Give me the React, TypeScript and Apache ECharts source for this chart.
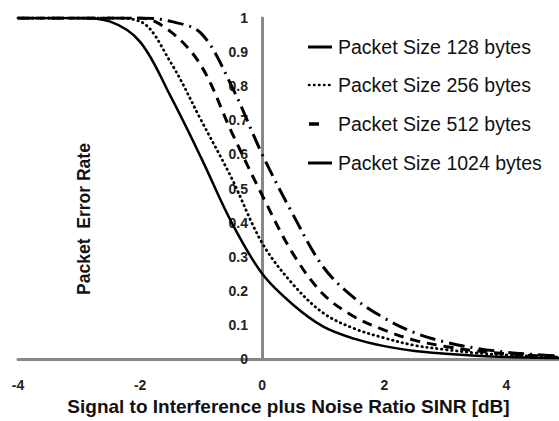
import React, { useEffect, useRef } from "react";
import * as echarts from "echarts";

const xValues = [-4, -3.5, -3, -2.5, -2, -1.5, -1, -0.5, 0, 0.5, 1, 1.5, 2, 2.5, 3, 3.5, 4, 4.5, 5];
const per128 = [1, 1, 1, 0.99, 0.93, 0.77, 0.59, 0.4, 0.25, 0.16, 0.095, 0.06, 0.038, 0.024, 0.016, 0.01, 0.006, 0.004, 0.003];
const per256 = [1, 1, 1, 1, 0.99, 0.87, 0.7, 0.53, 0.34, 0.22, 0.135, 0.09, 0.062, 0.04, 0.028, 0.018, 0.012, 0.008, 0.005];
const per512 = [1, 1, 1, 1, 1, 0.96, 0.86, 0.665, 0.48, 0.31, 0.19, 0.125, 0.085, 0.055, 0.037, 0.024, 0.016, 0.01, 0.007];
const per1024 = [1, 1, 1, 1, 1, 0.99, 0.955, 0.8, 0.6, 0.425, 0.27, 0.18, 0.12, 0.077, 0.05, 0.032, 0.02, 0.013, 0.008];
const seriesNames = [
  "Packet Size 128 bytes",
  "Packet Size 256 bytes",
  "Packet Size 512 bytes",
  "Packet Size 1024 bytes",
];
const xTitle = "Signal to Interference plus Noise Ratio SINR [dB]";
const yTitle = "Packet  Error Rate";

const FONT = "'Liberation Sans', Arial, sans-serif";

export default function App() {
  const ref = useRef<HTMLDivElement>(null);
  useEffect(() => {
    if (!ref.current) return;
    const chart = echarts.init(ref.current, undefined, { renderer: "svg" });
    const all = [per128, per256, per512, per1024];
    const styles: any[] = [
      { type: "solid", width: 2.5 },
      { type: [0.5, 4.5], width: 2.8, cap: "round" },
      { type: [10, 7], width: 3 },
      { type: [16, 6, 2, 6], width: 3 },
    ];
    const legendSamples: any[] = [
      { x1: 308, x2: 332, w: 3, dash: null, cap: "butt" },
      { x1: 309, x2: 333, w: 2.5, dash: [0.5, 4.5], cap: "round" },
      { x1: 309, x2: 319, w: 3.5, dash: null, cap: "butt" },
      { x1: 308, x2: 332, w: 3, dash: null, cap: "butt" },
    ];
    const legendY = [47, 85, 124, 163];
    const legendGraphics: any[] = [];
    seriesNames.forEach((n, i) => {
      const s = legendSamples[i];
      legendGraphics.push({
        type: "line",
        shape: { x1: s.x1, y1: legendY[i], x2: s.x2, y2: legendY[i] },
        style: { stroke: "#000", lineWidth: s.w, lineDash: s.dash || undefined, lineCap: s.cap },
      });
      legendGraphics.push({
        type: "text",
        x: 338,
        y: legendY[i],
        style: {
          text: n,
          fontSize: 19.5,
          fill: "#111",
          fontFamily: FONT,
          align: "left",
          verticalAlign: "middle",
        },
      });
    });
    chart.setOption({
      animation: false,
      textStyle: { fontFamily: FONT },
      grid: { left: 18, right: 0, top: 18, bottom: 55, containLabel: false },
      xAxis: {
        type: "value",
        min: -4,
        max: 4.86,
        interval: 2,
        splitLine: { show: false },
        axisTick: { show: false },
        axisLine: { onZero: true, lineStyle: { color: "#888", width: 3 } },
        axisLabel: {
          margin: 19,
          fontSize: 14,
          fontWeight: "bold",
          color: "#222",
          fontFamily: FONT,
          showMaxLabel: false,
        },
        name: xTitle,
        nameLocation: "middle",
        nameGap: 35,
        nameTextStyle: { fontSize: 19, fontWeight: "bold", color: "#111", fontFamily: FONT },
      },
      yAxis: {
        type: "value",
        min: 0,
        max: 1,
        interval: 0.1,
        offset: -244,
        splitLine: { show: false },
        axisTick: { show: false },
        axisLine: { onZero: false, lineStyle: { color: "#888", width: 3 } },
        axisLabel: {
          margin: 14,
          fontSize: 14,
          fontWeight: "bold",
          color: "#222",
          fontFamily: FONT,
          formatter: (v: number) => String(Math.round(v * 10) / 10),
        },
      },
      graphic: [
        {
          type: "text",
          x: 84,
          y: 219,
          rotation: Math.PI / 2,
          style: {
            text: yTitle,
            fontSize: 17.5,
            fontWeight: "bold",
            fill: "#111",
            fontFamily: FONT,
            align: "center",
            verticalAlign: "middle",
          },
        },
        ...legendGraphics,
      ],
      series: all.map((arr, i) => ({
        name: seriesNames[i],
        type: "line",
        data: xValues.map((x, j) => [x, arr[j]]),
        smooth: 0.35,
        symbol: "none",
        showSymbol: false,
        clip: true,
        color: "#000",
        lineStyle: { color: "#000", ...styles[i] },
        z: 3,
      })),
    });
    return () => chart.dispose();
  }, []);
  return (
    <div
      ref={ref}
      style={{ position: "fixed", left: 0, top: 0, width: 559, height: 421, background: "#fff" }}
    />
  );
}
